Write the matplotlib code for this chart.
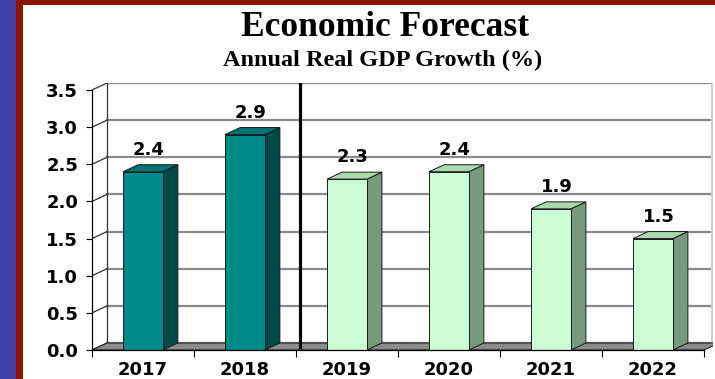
import matplotlib
matplotlib.use("Agg")
import matplotlib.pyplot as plt
from matplotlib.patches import Polygon, Rectangle

# Data
years = ["2017", "2018", "2019", "2020", "2021", "2022"]
growth = [2.4, 2.9, 2.3, 2.4, 1.9, 1.5]
is_forecast = [False, False, True, True, True, True]
y_ticks = [0.0, 0.5, 1.0, 1.5, 2.0, 2.5, 3.0, 3.5]

# 3D look: depth offsets in data units
dx = 0.147
dy = 0.094
bar_w = 0.39

fig = plt.figure(figsize=(7.15, 3.79), dpi=100)
fig.patch.set_facecolor("white")

# frame borders
W, H = 715.0, 379.0
fig.patches.append(Rectangle((0, 0), 16 / W, 1, transform=fig.transFigure, facecolor="#4040a6", edgecolor="none"))
fig.patches.append(Rectangle((16 / W, 0), 7 / W, 1, transform=fig.transFigure, facecolor="#8e1600", edgecolor="none"))
fig.patches.append(Rectangle((16 / W, 1 - 5 / H), 1, 5 / H, transform=fig.transFigure, facecolor="#8e1600",
                             edgecolor="none"))

# titles
fig.text(385 / W, 1 - 27 / H, "Economic Forecast", ha="center", va="center",
         fontsize=25.5, fontweight="bold", family="Liberation Serif")
fig.text(383 / W, 1 - 60 / H, "Annual Real GDP Growth (%)", ha="center", va="center",
         fontsize=17.5, fontweight="bold", family="Liberation Serif")

ax = fig.add_axes([92 / W, 29 / H, 621 / W, 267 / H])
x_right = -0.5 + 621 / 102
ax.set_xlim(-0.5, x_right)
ax.set_ylim(0, 3.5 + dy)
ax.set_facecolor("none")

# back wall + gridlines
for v in y_ticks:
    ax.plot([-0.5 + dx, x_right], [v + dy, v + dy], color="#8a8a8a", lw=1.6, zorder=1)
    ax.plot([-0.5, -0.5 + dx], [v, v + dy], color="#333333", lw=0.9, zorder=1)
ax.plot([-0.5 + dx, -0.5 + dx], [dy, 3.5 + dy], color="#333333", lw=0.9, zorder=1)
ax.plot([x_right - 0.01, x_right - 0.01], [dy, 3.5 + dy], color="#cfcfcf", lw=1.5, zorder=1)

# floor
ax.add_patch(Polygon([(-0.5, 0), (5.5, 0), (5.5 + dx, dy), (-0.5 + dx, dy)], closed=True,
                     facecolor="#8c8c8c", edgecolor="#222222", lw=0.8, zorder=2))

# divider between actual and forecast
ax.plot([1.54, 1.54], [0.04, 3.5 + dy], color="black", lw=2.3, zorder=3)

# bars
for i, v in enumerate(growth):
    if is_forecast[i]:
        c_front, c_top, c_side = "#ccfcd4", "#a9d9ad", "#789a7c"
    else:
        c_front, c_top, c_side = "#008b8b", "#007272", "#004a4a"
    x0, x1 = i - bar_w / 2, i + bar_w / 2
    ax.add_patch(Polygon([(x1, 0), (x1 + dx, dy), (x1 + dx, v + dy), (x1, v)], closed=True,
                         facecolor=c_side, edgecolor="#1a1a1a", lw=0.7, zorder=4))
    ax.add_patch(Polygon([(x0, v), (x1, v), (x1 + dx, v + dy), (x0 + dx, v + dy)], closed=True,
                         facecolor=c_top, edgecolor="#1a1a1a", lw=0.7, zorder=4))
    ax.add_patch(Rectangle((x0, 0), bar_w, v, facecolor=c_front, edgecolor="#1a1a1a", lw=0.7, zorder=5))
    ax.text(i + dx / 2 - 0.02, v + dy + 0.08, f"{v:.1f}", ha="center", va="bottom",
            fontsize=13, fontweight="bold", family="DejaVu Sans", zorder=6)

# axes styling: front left axis and front baseline
for side in ("top", "right"):
    ax.spines[side].set_visible(False)
ax.spines["left"].set_bounds(0, 3.5)
ax.spines["bottom"].set_bounds(-0.5, 5.5)
ax.spines["left"].set_linewidth(0.9)
ax.spines["bottom"].set_linewidth(0.9)
ax.spines["left"].set_zorder(7)
ax.spines["bottom"].set_zorder(7)

ax.set_yticks(y_ticks)
ax.set_yticklabels([f"{v:.1f}" for v in y_ticks])
ax.set_xticks(range(len(years)))
ax.set_xticklabels(years)
ax.set_xticks([i + 0.5 for i in range(-1, len(years))], minor=True)
ax.tick_params(axis="y", length=4, width=0.8, pad=6)
ax.tick_params(axis="x", which="major", length=0, pad=8)
ax.tick_params(axis="x", which="minor", length=5, width=0.8)
for lab in ax.get_xticklabels() + ax.get_yticklabels():
    lab.set_fontweight("bold")
    lab.set_fontsize(13)
    lab.set_family("DejaVu Sans")

fig.savefig("out.png", dpi=100, facecolor="white")
